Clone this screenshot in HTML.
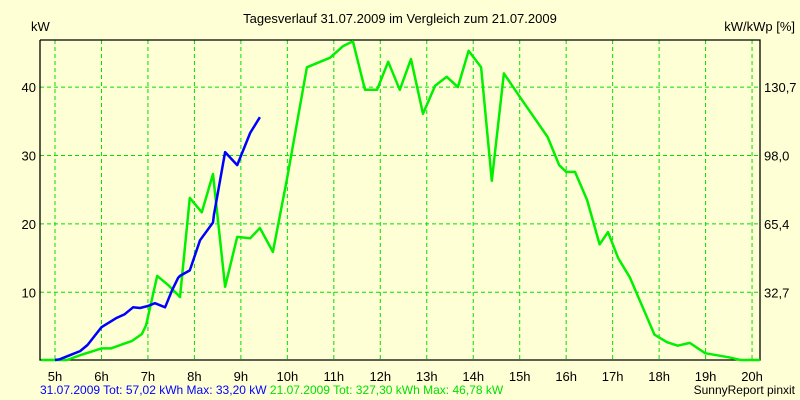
<!DOCTYPE html>
<html><head><meta charset="utf-8"><style>
body{margin:0;background:#FFFFD6;}
svg{display:block;font-family:"Liberation Sans",Arial,sans-serif;}
</style></head><body>
<svg width="800" height="400" viewBox="0 0 800 400">
<rect x="0" y="0" width="800" height="400" fill="#FFFFD6"/>
<text x="400" y="23" text-anchor="middle" font-size="13">Tagesverlauf 31.07.2009 im Vergleich zum 21.07.2009</text>
<text x="31" y="31" font-size="13">kW</text>
<text x="795" y="31" text-anchor="end" font-size="13">kW/kWp [%]</text>
<g id="grid"></g>
<g id="axes"></g>
<g id="series"></g>
<text y="394" font-size="12"><tspan x="40" fill="#0000FF">31.07.2009 Tot: 57,02 kWh Max: 33,20 kW</tspan><tspan fill="#00E000"> 21.07.2009 Tot: 327,30 kWh Max: 46,78 kW</tspan></text>
<text x="795" y="394" text-anchor="end" font-size="12">SunnyReport pinxit</text>
</svg>
<script>
const hourTicks=[5,6,7,8,9,10,11,12,13,14,15,16,17,18,19,20];
const kwTicks=[10,20,30,40];
const pctLabels=["32,7","65,4","98,0","130,7"];
const blueT=[5.0,5.1,5.32,5.54,5.7,6.0,6.31,6.5,6.68,6.83,7.0,7.15,7.37,7.52,7.65,7.69,7.9,8.12,8.4,8.42,8.66,8.92,9.2,9.41];
const blueV=[0,0.2,0.8,1.4,2.3,4.9,6.2,6.8,7.8,7.7,8.0,8.4,7.8,10.3,12.1,12.4,13.2,17.6,20.2,21.3,30.5,28.6,33.3,35.6];
const greenT=[4.7,5.26,5.54,6.0,6.2,6.66,6.87,6.96,7.2,7.43,7.65,7.69,7.9,8.16,8.4,8.66,8.92,9.2,9.41,9.69,10.0,10.42,10.92,11.2,11.41,11.67,11.93,12.17,12.42,12.66,12.92,13.18,13.43,13.67,13.9,14.17,14.4,14.66,15.0,15.6,15.85,16.0,16.19,16.45,16.72,16.9,17.12,17.37,17.9,18.17,18.4,18.66,18.99,19.5,19.75,20.17];
const greenV=[0,0,0.8,1.8,1.8,2.9,3.9,5.2,12.4,11.1,9.6,9.3,23.8,21.7,27.3,10.8,18.1,17.9,19.4,15.9,26.9,42.9,44.3,46,46.7,39.6,39.6,43.7,39.6,44.1,36.1,40.2,41.5,40,45.3,42.9,26.3,42,38.6,32.7,28.6,27.6,27.6,23.5,17,18.8,15,12.2,3.8,2.7,2.2,2.6,1.1,0.5,0.1,0];
const X0=40,X1=760,Y0=360.7,YT=40;
const xs=t=>55+(t-5)*46.47;
const ys=v=>Y0-v*6.84;
const NS="http://www.w3.org/2000/svg";
function mk(tag,attrs,parent){const e=document.createElementNS(NS,tag);for(const k in attrs)e.setAttribute(k,attrs[k]);parent.appendChild(e);return e;}
const grid=document.getElementById('grid'),axes=document.getElementById('axes'),series=document.getElementById('series');
hourTicks.forEach(h=>{
  const x=xs(h);
  const l=mk('line',{x1:x,y1:YT,x2:x,y2:360,stroke:'#00E000','stroke-width':1,'stroke-dasharray':'4,3'},grid);
  
  
  const t=mk('text',{x:x,y:381,'text-anchor':'middle','font-size':13},axes);
  t.textContent=h+'h';
  
  
});
kwTicks.forEach((v,i)=>{
  const y=ys(v);
  const l=mk('line',{x1:X0,y1:y,x2:X1,y2:y,stroke:'#00E000','stroke-width':1,'stroke-dasharray':'4,3'},grid);
  
  
  const t=mk('text',{x:36,y:y+5,'text-anchor':'end','font-size':13},axes);
  t.textContent=v;
  
  
  const r=mk('text',{x:764,y:y+5,'font-size':13},axes);
  r.textContent=pctLabels[i];
  
  
});
const ax=mk('path',{d:`M${X0} ${YT} V360 H${X1} V${YT} H${X0}`,fill:'none',stroke:'#000','stroke-width':1.3},axes);


function line(T,V,color,name){
  const d=T.map((t,i)=>(i?'L':'M')+Math.max(X0,xs(t)).toFixed(1)+' '+Math.min(360,ys(V[i])).toFixed(1)).join(' ');
  const p=mk('path',{d:d,fill:'none',stroke:color,'stroke-width':2.5,'stroke-linejoin':'round'},series);
  
  
}
line(greenT,greenV,'#00F000','series-21-07-2009');
line(blueT,blueV,'#0000FF','series-31-07-2009');
</script>
</body></html>
